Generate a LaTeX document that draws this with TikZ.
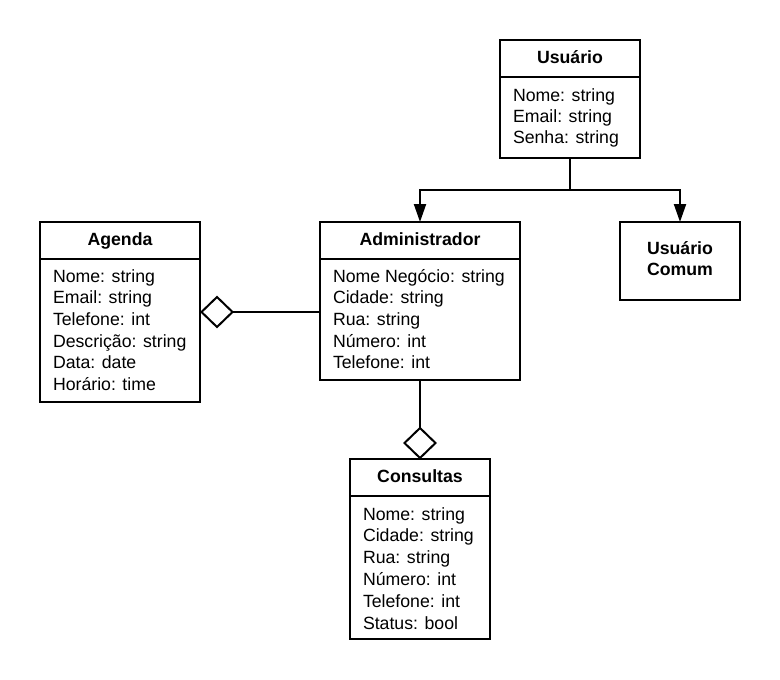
\documentclass[tikz,border=0pt]{standalone}
\usepackage{fontspec}
\setmainfont{Liberation Sans}
\usetikzlibrary{arrows.meta,shapes.geometric}
\begin{document}
\begin{tikzpicture}[x=1pt,y=-1pt,
  every node/.style={inner sep=0pt,outer sep=0pt},
  box/.style={draw,line width=2pt,anchor=north west},
  ttl/.style={anchor=base,font=\fontsize{17.7}{21}\selectfont\bfseries},
  attr/.style={anchor=base west,font=\fontsize{17.7}{21}\selectfont},
  conn/.style={line width=2pt},
  arr/.style={line width=2pt,-{Triangle[width=12pt,length=18pt]}},
  dia/.style={draw,line width=2pt,fill=white,diamond,aspect=1,minimum width=31pt,minimum height=30pt}]
\useasboundingbox (0,0) rectangle (780,680);

% Usuario
\node[box,minimum width=140pt,minimum height=118pt] (usuario) at (500,40) {};
\draw[line width=2pt] (500,77) -- (640,77);
\node[ttl] (tus) at (570,63) {Usuário};
\foreach \t [count=\i] in {Nome: string,Email: string,Senha: string}
  \node[attr] (us\i) at (513,{101.5+21*(\i-1)}) {\t};

% Administrador
\node[box,minimum width=200pt,minimum height=158pt] (admin) at (320,222) {};
\draw[line width=2pt] (320,259) -- (520,259);
\node[ttl] (tad) at (420,245) {Administrador};
\foreach \t [count=\i] in {Nome Negócio: string,Cidade: string,Rua: string,Número: int,Telefone: int}
  \node[attr] (ad\i) at (333,{282+21.7*(\i-1)}) {\t};

% Usuario Comum
\node[box,minimum width=120pt,minimum height=78pt] (comum) at (620,222) {};
\node[ttl] (tc1) at (680,254) {Usuário};
\node[ttl] (tc2) at (680,275) {Comum};

% Agenda
\node[box,minimum width=160pt,minimum height=180pt] (agenda) at (40,222) {};
\draw[line width=2pt] (40,259) -- (200,259);
\node[ttl] (tag) at (120,245) {Agenda};
\foreach \t [count=\i] in {Nome: string,Email: string,Telefone: int,Descrição: string,Data: date,Horário: time}
  \node[attr] (ag\i) at (53,{282+21.7*(\i-1)}) {\t};

% Consultas
\node[box,minimum width=140pt,minimum height=180pt] (consultas) at (350,459) {};
\draw[line width=2pt] (350,496) -- (490,496);
\node[ttl] (tco) at (420,482) {Consultas};
\foreach \t [count=\i] in {Nome: string,Cidade: string,Rua: string,Número: int,Telefone: int,Status: bool}
  \node[attr] (co\i) at (363,{520+21.9*(\i-1)}) {\t};

% Inheritance arrows
\coordinate (split) at ([yshift=-32pt]usuario.south);
\draw[arr] (usuario.south) -- (split) -| (admin.north);
\draw[arr] (split) -| (comum.north);

% Aggregation diamonds
\node[dia] (dA) at (217,312) {};
\draw[conn] (dA.east) -- (dA.east -| admin.west);
\node[dia] (dC) at (420,443) {};
\draw[conn] (admin.south) -- (dC.north);
\end{tikzpicture}
\end{document}
